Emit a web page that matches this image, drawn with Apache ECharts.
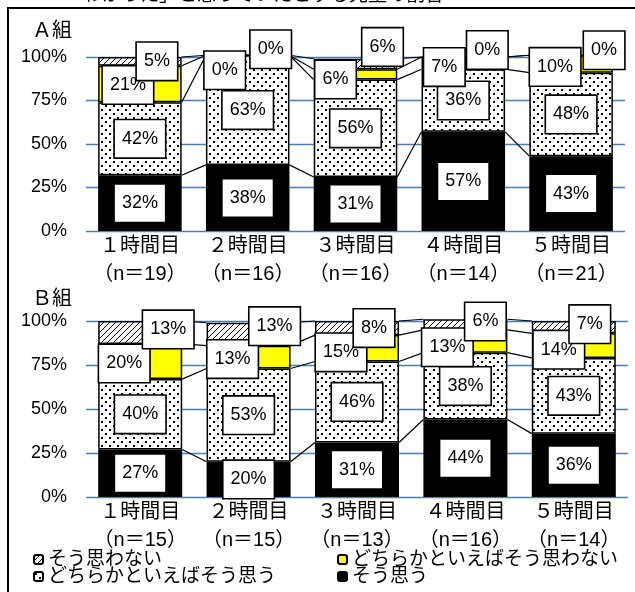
<!DOCTYPE html>
<html>
<head>
<meta charset="utf-8">
<script src="https://cdn.jsdelivr.net/npm/echarts@6/dist/echarts.min.js"></script>
<style>
  html, body { margin: 0; padding: 0; background: #fff; }
  #chart { width: 635px; height: 592px; }
</style>
</head>
<body>
<div id="chart"></div>
<script>
// Lesson categories and respondent counts
const categories = ['１時間目', '２時間目', '３時間目', '４時間目', '５時間目'];
const countsA = [19, 16, 16, 14, 21];
const countsB = [15, 15, 13, 16, 14];

// Response names, stacked from bottom to top
const responseNames = ['そう思う', 'どちらかといえばそう思う', 'どちらかといえばそう思わない', 'そう思わない'];

// Group A shares (%)
const agreeA          = [32, 38, 31, 57, 43];
const ratherAgreeA    = [42, 63, 56, 36, 48];
const ratherDisagreeA = [21, 0, 6, 7, 10];
const disagreeA       = [5, 0, 6, 0, 0];

// Group B shares (%)
const agreeB          = [27, 20, 31, 44, 36];
const ratherAgreeB    = [40, 53, 46, 38, 43];
const ratherDisagreeB = [20, 13, 15, 13, 14];
const disagreeB       = [13, 13, 8, 6, 7];

// Hand-placed label shifts (px) for the two thin upper segments
const labelShiftA = {
  ratherDisagree: [[-12, 1], [-23, 15], [-20, 5], [-19, 4], [-16, 3]],
  disagree:       [[17, 0], [23, -6], [27, -17], [24, -7], [33, -5]]
};
const labelShiftB = {
  ratherDisagree: [[-16, 2], [-16, 2], [-16, 4], [-18, 6], [-15, 4]],
  disagree:       [[28, -3], [26, -8], [17, 0], [20, -3], [16, -3]]
};

const FONT = "'Liberation Sans', 'Noto Sans CJK JP', sans-serif";
const BAR_RATIO = 0.775;

function dotTile() {
  const c = document.createElement('canvas');
  c.width = 8; c.height = 8;
  const g = c.getContext('2d');
  g.fillStyle = '#fff'; g.fillRect(0, 0, 8, 8);
  g.fillStyle = '#000';
  g.fillRect(1, 1, 2, 2);
  g.fillRect(5, 5, 2, 2);
  return c;
}
function hatchTile() {
  const s = 6;
  const c = document.createElement('canvas');
  c.width = s; c.height = s;
  const g = c.getContext('2d');
  g.fillStyle = '#fff'; g.fillRect(0, 0, s, s);
  g.strokeStyle = '#000'; g.lineWidth = 1;
  g.beginPath();
  g.moveTo(0, s); g.lineTo(s, 0);
  g.moveTo(-1, 1); g.lineTo(1, -1);
  g.moveTo(s - 1, s + 1); g.lineTo(s + 1, s - 1);
  g.stroke();
  return c;
}
const fills = [
  '#000000',
  { image: dotTile(), repeat: 'repeat' },
  '#ffff00',
  { image: hatchTile(), repeat: 'repeat' }
];

const boxLabel = {
  show: true,
  position: 'inside',
  formatter: '{c}%',
  fontFamily: FONT,
  fontSize: 18,
  lineHeight: 19,
  color: '#000',
  backgroundColor: '#fff',
  borderColor: '#000',
  borderWidth: 1.6,
  padding: [9, 7, 9, 7]
};

function panelSeries(gridIndex, stackKey, layers, shifts) {
  const out = [];
  layers.forEach((vals, k) => {
    const data = vals.map((v, i) => {
      if (k === 2) return { value: v, label: { offset: shifts.ratherDisagree[i] } };
      if (k === 3) return { value: v, label: { offset: shifts.disagree[i] } };
      return v;
    });
    out.push({
      type: 'bar',
      name: responseNames[k],
      xAxisIndex: gridIndex,
      yAxisIndex: gridIndex,
      stack: stackKey,
      barWidth: (BAR_RATIO * 100) + '%',
      clip: false,
      z: 2,
      itemStyle: { color: fills[k], borderColor: '#000', borderWidth: 1.5 },
      label: boxLabel,
      data: data
    });
  });
  // Series lines joining segment tops of neighbouring bars
  const links = [];
  const tops = categories.map(() => 0);
  layers.forEach(vals => {
    vals.forEach((v, i) => { tops[i] += v; });
    for (let i = 0; i < categories.length - 1; i++) {
      links.push([i, tops[i], tops[i + 1]]);
    }
  });
  out.push({
    type: 'custom',
    xAxisIndex: gridIndex,
    yAxisIndex: gridIndex,
    z: 1,
    silent: true,
    clip: false,
    encode: { x: 0, y: 1 },
    data: links,
    renderItem: function (params, api) {
      const i = api.value(0);
      const a = api.coord([i, api.value(1)]);
      const b = api.coord([i + 1, api.value(2)]);
      const half = api.size([1, 0])[0] * BAR_RATIO / 2;
      return {
        type: 'line',
        shape: { x1: a[0] + half, y1: a[1], x2: b[0] - half, y2: b[1] },
        style: { stroke: '#000', lineWidth: 1.2 }
      };
    }
  });
  return out;
}

function xAxisFor(gridIndex, counts) {
  return {
    type: 'category',
    gridIndex: gridIndex,
    data: categories.map((c, i) => c + '\n（n＝' + counts[i] + '）'),
    axisLine: { show: false },
    axisTick: { show: false },
    axisLabel: {
      margin: 1,
      fontFamily: FONT,
      fontSize: 20,
      lineHeight: 28,
      color: '#000',
      interval: 0
    }
  };
}
function yAxisFor(gridIndex) {
  return {
    type: 'value',
    gridIndex: gridIndex,
    min: 0, max: 100, interval: 25,
    axisLine: { show: false },
    axisTick: { show: false },
    axisLabel: {
      formatter: '{value}%',
      margin: 19,
      fontFamily: FONT,
      fontSize: 18,
      color: '#000'
    },
    splitLine: { lineStyle: { color: '#4a7ebb', width: 1.3 } }
  };
}

const legendText = { fontFamily: FONT, fontSize: 19, lineHeight: 19, color: '#000' };
function legendRow(names, top) {
  return {
    data: [
      { name: names[0], textStyle: { width: 289 } },
      { name: names[1] }
    ],
    left: 33, top: top, width: 602, padding: 0, itemGap: 0,
    itemWidth: 9, itemHeight: 9,
    textStyle: legendText, selectedMode: false
  };
}

const chart = echarts.init(document.getElementById('chart'), null, { renderer: 'canvas' });
chart.setOption({
  animation: false,
  backgroundColor: '#fff',
  textStyle: { fontFamily: FONT },
  grid: [
    { left: 86, top: 57, width: 539, height: 174 },
    { left: 86, top: 321, width: 542, height: 176 }
  ],
  xAxis: [xAxisFor(0, countsA), xAxisFor(1, countsB)],
  yAxis: [yAxisFor(0), yAxisFor(1)],
  legend: [
    legendRow(['そう思わない', 'どちらかといえばそう思わない'], 550),
    legendRow(['どちらかといえばそう思う', 'そう思う'], 567)
  ],
  graphic: [
    {
      type: 'rect', silent: true,
      shape: { x: 8, y: 8, width: 700, height: 700 },
      style: { fill: 'none', stroke: '#000', lineWidth: 2 }
    },
    {
      type: 'text', left: 32, top: 21,
      style: { text: 'Ａ組', fontFamily: FONT, fontSize: 20, fill: '#000' }
    },
    {
      type: 'text', left: 32, top: 289,
      style: { text: 'Ｂ組', fontFamily: FONT, fontSize: 20, fill: '#000' }
    },
    {
      type: 'text', left: 64, top: -14,
      style: { text: '「わかった」と思っていたとする児童の割合', fontFamily: FONT, fontSize: 19, fill: '#000' }
    }
  ],
  series: [].concat(
    panelSeries(0, 'A', [agreeA, ratherAgreeA, ratherDisagreeA, disagreeA], labelShiftA),
    panelSeries(1, 'B', [agreeB, ratherAgreeB, ratherDisagreeB, disagreeB], labelShiftB)
  )
});
</script>
</body>
</html>
